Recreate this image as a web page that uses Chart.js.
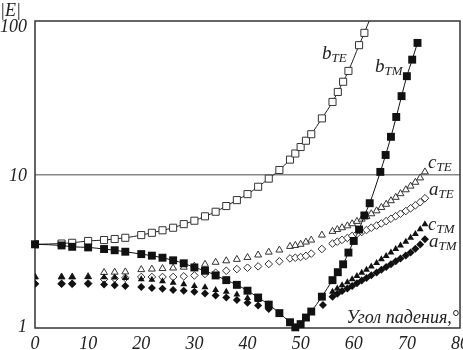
<!DOCTYPE html>
<html>
<head>
<meta charset="utf-8">
<script src="https://cdn.jsdelivr.net/npm/chart.js@4.4.0/dist/chart.umd.min.js"></script>
<style>
  html, body { margin: 0; padding: 0; background: #fff; }
</style>
</head>
<body>
<canvas id="chart" width="463" height="350"></canvas>
<script>
// angles of incidence, degrees
const anglesB_TE = [0, 5, 7, 10, 13, 15, 17, 20, 22, 24, 26, 28, 30, 32, 34, 36, 38, 40, 42, 44, 46,
                    48, 49, 50, 51, 52, 54, 56, 57, 58, 59, 61, 62, 64];
const valuesB_TE = [3.51, 3.55, 3.59, 3.69, 3.74, 3.8, 3.87, 4.03, 4.17, 4.33, 4.5, 4.75, 5.0, 5.34, 5.72, 6.23, 6.81, 7.45, 8.32, 9.4, 10.7,
                    12.5, 13.7, 15.1, 16.6, 18.3, 23.2, 29.7, 34.5, 40.2, 47.3, 69.6, 83.7, 125];

const anglesB_TM = [0, 5, 7, 10, 13, 15, 17, 20, 22, 24, 26, 28, 30, 32, 34, 36, 38, 40, 42, 44, 46,
                    48, 49, 50, 51, 52, 54, 56, 57, 58, 59, 60, 61, 62, 63, 65, 66, 67, 68, 69, 70, 71, 72];
const valuesB_TM = [3.51, 3.45, 3.38, 3.35, 3.27, 3.21, 3.14, 3.03, 2.96, 2.87, 2.76, 2.64, 2.48, 2.36, 2.2, 2.05, 1.91, 1.75, 1.58, 1.42, 1.25,
                    1.09, 1.01, 1.06, 1.17, 1.28, 1.6, 2.05, 2.31, 2.6, 3.1, 3.69, 4.38, 5.41, 6.5, 10.4, 13.4, 17.6, 23.7, 32.4, 43.7, 56, 72];

const anglesTE = [0, 5, 7, 10, 13, 15, 17, 20, 22, 24, 26, 28, 30, 32, 34, 36, 38, 40, 42, 44, 46,
                  48, 49, 50, 51, 52, 54,
                  56, 56.9, 57.8, 58.8, 59.7, 60.6, 61.5, 62.4, 63.3, 64.3, 65.2, 66.1, 67, 67.9, 68.8, 69.8, 70.7, 71.6, 72.5, 73.4];
const valuesC_TE = [2.15, 2.15, 2.15, 2.16, 2.3, 2.31, 2.32, 2.4, 2.42, 2.44, 2.46, 2.49, 2.53, 2.6, 2.68, 2.74, 2.8, 2.88, 2.99, 3.12, 3.22,
                    3.4, 3.45, 3.51, 3.63, 3.74, 4.03,
                    4.26, 4.38, 4.5, 4.63, 4.78, 4.95, 5.12, 5.32, 5.55, 5.8, 6.1, 6.4, 6.75, 7.1, 7.5, 7.95, 8.4, 8.9, 9.5, 10.4];
const valuesA_TE = [1.94, 1.94, 1.94, 1.95, 2.08, 2.1, 2.12, 2.15, 2.15, 2.15, 2.15, 2.17, 2.2, 2.25, 2.29, 2.36, 2.42, 2.47, 2.52, 2.61, 2.72,
                    2.84, 2.87, 2.9, 2.95, 3.05, 3.27,
                    3.55, 3.65, 3.75, 3.86, 3.98, 4.1, 4.22, 4.35, 4.5, 4.65, 4.8, 4.97, 5.15, 5.35, 5.55, 5.78, 6.02, 6.3, 6.6, 7.0];

const anglesTM = [0, 5, 7, 10, 13, 15, 17, 20, 22, 24, 26, 28, 30, 32, 34, 36, 38, 40, 42, 44,
                  56, 56.9, 57.8, 58.8, 59.7, 60.6, 61.5, 62.4, 63.3, 64.3, 65.2, 66.1, 67, 67.9, 68.8, 69.8, 70.7, 71.6, 72.5, 73.4];
const valuesC_TM = [2.15, 2.15, 2.15, 2.15, 2.14, 2.13, 2.12, 2.08, 2.06, 2.02, 1.97, 1.93, 1.88, 1.84, 1.77, 1.72, 1.65, 1.57, 1.52, 1.43,
                    1.72, 1.81, 1.9, 1.99, 2.08, 2.18, 2.29, 2.4, 2.52, 2.65, 2.8, 2.95, 3.1, 3.27, 3.45, 3.65, 3.87, 4.1, 4.4, 4.75];
const anglesA_TM = anglesTM.slice(0, 20).concat([54.2], anglesTM.slice(20));
const valuesA_TM = [1.94, 1.94, 1.94, 1.94, 1.92, 1.9, 1.88, 1.85, 1.82, 1.8, 1.77, 1.75, 1.72, 1.68, 1.63, 1.58, 1.52, 1.46, 1.4, 1.33,
                    1.41,
                    1.6, 1.67, 1.74, 1.81, 1.88, 1.96, 2.04, 2.12, 2.21, 2.3, 2.4, 2.5, 2.6, 2.72, 2.84, 2.97, 3.1, 3.28, 3.5, 3.78];

const xTicks = [0, 10, 20, 30, 40, 50, 60, 70, 80];
const yTicks = [1, 10, 100];

function pts(xs, ys) {
  return xs.map((v, i) => ({ x: v, y: ys[i] }));
}

const serif = "'Liberation Serif', 'DejaVu Serif', serif";

const frame = {
  id: 'frame',
  beforeDatasetsDraw(chart) {
    const { ctx, chartArea: a } = chart;
    ctx.save();
    ctx.strokeStyle = '#333';
    ctx.lineWidth = 1.5;
    ctx.strokeRect(a.left, a.top, a.right - a.left, a.bottom - a.top);
    ctx.restore();
  },
  afterDraw(chart) {
    const { ctx, scales: { y } } = chart;
    ctx.save();
    ctx.fillStyle = '#222';
    ctx.font = 'italic 18px ' + serif;
    ctx.textAlign = 'right';
    ctx.textBaseline = 'middle';
    const shift = { 1: -1, 10: 1.5, 100: 6 };
    yTicks.forEach(v => ctx.fillText(String(v), 27, y.getPixelForValue(v) + shift[v]));

    ctx.textAlign = 'left';
    ctx.textBaseline = 'alphabetic';
    ctx.fillText('|E|', 0, 16);

    ctx.font = 'italic 18px ' + serif;
    ctx.textAlign = 'right';
    ctx.fillText('Угол падения,°', 459, 323);

    function label(main, sub, lx, by) {
      ctx.textAlign = 'left';
      ctx.font = 'italic 19px ' + serif;
      ctx.fillText(main, lx, by);
      const w = ctx.measureText(main).width;
      ctx.font = 'italic 13px ' + serif;
      ctx.fillText(sub, lx + w, by + 3);
    }
    label('b', 'TE', 322, 59);
    label('b', 'TM', 375, 72);
    label('c', 'TE', 428, 168);
    label('a', 'TE', 429, 195);
    label('c', 'TM', 428, 230);
    label('a', 'TM', 429, 247);
    ctx.restore();
  }
};

new Chart(document.getElementById('chart'), {
  type: 'scatter',
  data: {
    datasets: [
      {
        label: 'bTM', data: pts(anglesB_TM, valuesB_TM), showLine: true,
        borderColor: '#111', borderWidth: 1, cubicInterpolationMode: 'monotone',
        pointStyle: 'rect', pointRadius: 5.6, pointBackgroundColor: '#111', pointBorderColor: '#111',
        pointBorderWidth: 0, clip: false
      },
      {
        label: 'bTE', data: pts(anglesB_TE, valuesB_TE), showLine: true,
        borderColor: '#222', borderWidth: 1, cubicInterpolationMode: 'monotone',
        pointStyle: 'rect', pointRadius: 5, pointBackgroundColor: '#fff', pointBorderColor: '#333',
        pointBorderWidth: 1
      },
      {
        label: 'cTM', data: pts(anglesTM, valuesC_TM),
        pointStyle: 'triangle', pointRadius: 4, pointBackgroundColor: '#111', pointBorderColor: '#111',
        pointBorderWidth: 0
      },
      {
        label: 'aTM', data: pts(anglesA_TM, valuesA_TM),
        pointStyle: 'rectRot', pointRadius: 4, pointBackgroundColor: '#111', pointBorderColor: '#111',
        pointBorderWidth: 0
      },
      {
        label: 'cTE', data: pts(anglesTE, valuesC_TE),
        pointStyle: 'triangle', pointRadius: 4, pointBackgroundColor: '#fff', pointBorderColor: '#333',
        pointBorderWidth: 1
      },
      {
        label: 'aTE', data: pts(anglesTE, valuesA_TE),
        pointStyle: 'rectRot', pointRadius: 3.8, pointBackgroundColor: '#fff', pointBorderColor: '#333',
        pointBorderWidth: 1
      }
    ]
  },
  options: {
    responsive: false,
    animation: false,
    layout: { autoPadding: false, padding: { top: 21, right: 3, left: 0, bottom: 0 } },
    plugins: { legend: { display: false }, tooltip: { enabled: false } },
    scales: {
      x: {
        type: 'linear', min: 0, max: 80,
        afterBuildTicks: s => { s.ticks = xTicks.map(v => ({ value: v })); },
        afterFit: s => { s.height = 22; s.paddingLeft = 0; s.paddingRight = 0; },
        grid: { display: false, drawTicks: false },
        border: { display: false },
        ticks: { color: '#222', padding: 5, maxRotation: 0, autoSkip: false,
                 font: { family: serif, style: 'italic', size: 18 } }
      },
      y: {
        type: 'logarithmic', min: 1, max: 100,
        afterBuildTicks: s => { s.ticks = yTicks.map(v => ({ value: v })); },
        afterFit: s => { s.width = 35; s.paddingTop = 0; s.paddingBottom = 0; },
        grid: {
          drawTicks: false, lineWidth: 1.5,
          color: c => (c.tick && c.tick.value === 10) ? '#888' : 'rgba(0,0,0,0)'
        },
        border: { display: false },
        ticks: { display: false }
      }
    }
  },
  plugins: [frame]
});
</script>
</body>
</html>
